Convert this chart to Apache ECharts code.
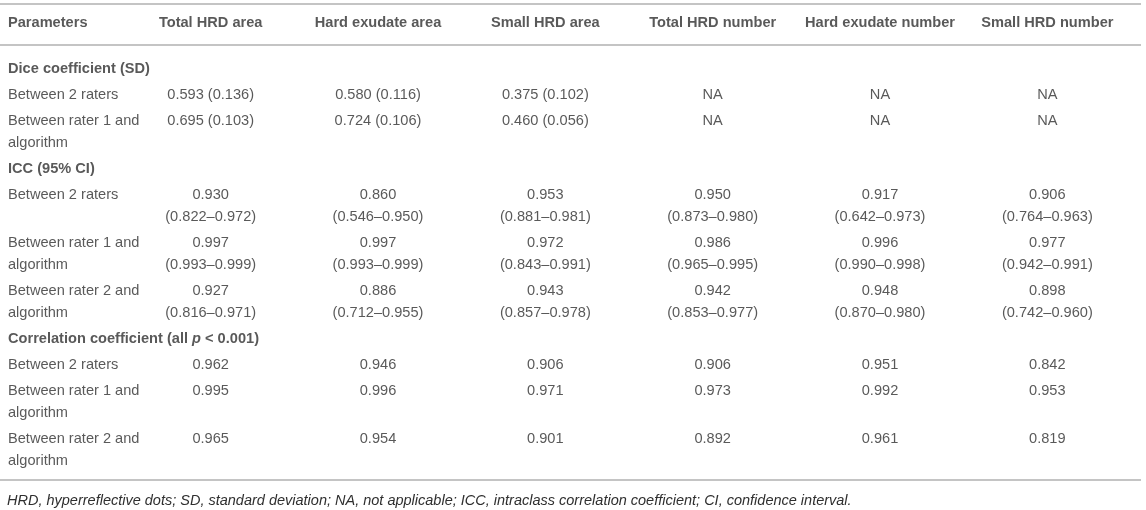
<!DOCTYPE html>
<html>
<head>
<meta charset="utf-8">
<script src="https://cdn.jsdelivr.net/npm/echarts@6/dist/echarts.min.js"></script>
<style>
  html, body { margin: 0; padding: 0; background: #fff; }
  #table { width: 1146px; height: 510px; }
</style>
</head>
<body>
<div id="table"></div>
<script>
// table content
var columns = ['Total HRD area', 'Hard exudate area', 'Small HRD area', 'Total HRD number', 'Hard exudate number', 'Small HRD number'];
var raterLabels = ['Between 2 raters', 'Between rater 1 and\nalgorithm', 'Between rater 2 and\nalgorithm'];
var sectionTitles = ['Dice coefficient (SD)', 'ICC (95% CI)', 'Correlation coefficient (all p < 0.001)'];

// Dice coefficient, mean and SD (null = NA)
var diceMean = [
  [0.593, 0.580, 0.375, null, null, null],
  [0.695, 0.724, 0.460, null, null, null]
];
var diceSD = [
  [0.136, 0.116, 0.102, null, null, null],
  [0.103, 0.106, 0.056, null, null, null]
];

// ICC with 95% CI
var iccValue = [
  [0.930, 0.860, 0.953, 0.950, 0.917, 0.906],
  [0.997, 0.997, 0.972, 0.986, 0.996, 0.977],
  [0.927, 0.886, 0.943, 0.942, 0.948, 0.898]
];
var iccLow = [
  [0.822, 0.546, 0.881, 0.873, 0.642, 0.764],
  [0.993, 0.993, 0.843, 0.965, 0.990, 0.942],
  [0.816, 0.712, 0.857, 0.853, 0.870, 0.742]
];
var iccHigh = [
  [0.972, 0.950, 0.981, 0.980, 0.973, 0.963],
  [0.999, 0.999, 0.991, 0.995, 0.998, 0.991],
  [0.971, 0.955, 0.978, 0.977, 0.980, 0.960]
];

// correlation coefficients
var corr = [
  [0.962, 0.946, 0.906, 0.906, 0.951, 0.842],
  [0.995, 0.996, 0.971, 0.973, 0.992, 0.953],
  [0.965, 0.954, 0.901, 0.892, 0.961, 0.819]
];

var footnote = 'HRD, hyperreflective dots; SD, standard deviation; NA, not applicable; ICC, intraclass correlation coefficient; CI, confidence interval.';

// layout
var FONT = '"Liberation Sans", Arial, Helvetica, sans-serif';
var TEXT = '#2f2f2f';
var FS = 14.6;
var LINE_H = 22;
var ROW_PAD = 3.95;
var HEADER_Y = 23;
var FIRST_Y = 69;

function fmt(v) { return v == null ? 'NA' : v.toFixed(3); }
function nLines(s) { return s.split('\n').length; }

// build rows
var body = [];
body.push({ title: 0 });
diceMean.forEach(function (row, r) {
  body.push({ label: raterLabels[r], cells: row.map(function (v, c) {
    return v == null ? 'NA' : fmt(v) + ' (' + fmt(diceSD[r][c]) + ')';
  }) });
});
body.push({ title: 1 });
iccValue.forEach(function (row, r) {
  body.push({ label: raterLabels[r], cells: row.map(function (v, c) {
    return fmt(v) + '\n(' + fmt(iccLow[r][c]) + '\u2013' + fmt(iccHigh[r][c]) + ')';
  }) });
});
body.push({ title: 2 });
corr.forEach(function (row, r) {
  body.push({ label: raterLabels[r], cells: row.map(fmt) });
});

var y = FIRST_Y;
body.forEach(function (row) {
  var n = 1;
  if (row.label) {
    n = nLines(row.label);
    row.cells.forEach(function (s) { n = Math.max(n, nLines(s)); });
  }
  row.y = y;
  row.n = n;
  y += n * LINE_H + ROW_PAD;
});
var lastLine = y - ROW_PAD - LINE_H;
var rules = [4, 45, lastLine + 19];

// parameter column (left aligned) and value columns (centered)
var paramData = [{ value: [0, HEADER_Y], label: { fontWeight: 'bold', formatter: 'Parameters' } }];
var cellData = columns.map(function (c, i) {
  return { value: [i, HEADER_Y], label: { formatter: c, fontWeight: 'bold' } };
});

body.forEach(function (row) {
  if (row.title != null) {
    var t = sectionTitles[row.title];
    var item = { value: [0, row.y], label: { fontWeight: 'bold', formatter: t } };
    if (row.title === 2) {
      var parts = t.split(' p ');
      item.label.formatter = '{b|' + parts[0] + ' }{i|p}{b| ' + parts[1] + '}';
    }
    paramData.push(item);
  } else {
    paramData.push({ value: [0, row.y + (nLines(row.label) - 1) * LINE_H / 2], label: { formatter: row.label } });
    row.cells.forEach(function (s, c) {
      cellData.push({ value: [c, row.y + (nLines(s) - 1) * LINE_H / 2], label: { formatter: s } });
    });
  }
});

var chart = echarts.init(document.getElementById('table'));
chart.setOption({
  animation: false,
  backgroundColor: '#fff',
  textStyle: { fontFamily: FONT },
  title: {
    text: footnote,
    left: 7,
    top: 493,
    padding: 0,
    textStyle: { fontFamily: FONT, fontSize: 14.5, fontStyle: 'italic', fontWeight: 'normal', color: TEXT }
  },
  grid: [
    { left: 127, right: 15, top: 0, bottom: 0 },
    { left: 0, right: 5, top: 0, bottom: 0 }
  ],
  xAxis: [
    { type: 'category', gridIndex: 0, data: columns, show: false },
    { type: 'value', gridIndex: 1, min: 0, max: 1, show: false }
  ],
  yAxis: [
    { type: 'value', gridIndex: 0, inverse: true, min: 0, max: 510, show: false },
    { type: 'value', gridIndex: 1, inverse: true, min: 0, max: 510, show: false }
  ],
  series: [
    {
      type: 'scatter',
      xAxisIndex: 1,
      yAxisIndex: 1,
      symbolSize: 0,
      silent: true,
      data: paramData,
      label: {
        show: true,
        position: 'right',
        distance: 8,
        align: 'left',
        verticalAlign: 'middle',
        fontFamily: FONT,
        fontSize: FS,
        lineHeight: LINE_H,
        color: TEXT,
        rich: {
          b: { fontFamily: FONT, fontSize: FS, fontWeight: 'bold', color: TEXT },
          i: { fontFamily: FONT, fontSize: FS, fontWeight: 'bold', fontStyle: 'italic', color: TEXT }
        }
      },
      markLine: {
        silent: true,
        symbol: ['none', 'none'],
        label: { show: false },
        lineStyle: { color: '#c4c4c4', width: 2, type: 'solid' },
        data: rules.map(function (v) { return { yAxis: v }; })
      }
    },
    {
      type: 'scatter',
      xAxisIndex: 0,
      yAxisIndex: 0,
      symbolSize: 0,
      silent: true,
      data: cellData,
      label: {
        show: true,
        position: 'inside',
        align: 'center',
        verticalAlign: 'middle',
        fontFamily: FONT,
        fontSize: FS,
        lineHeight: LINE_H,
        color: TEXT
      }
    }
  ]
});
</script>
</body>
</html>
